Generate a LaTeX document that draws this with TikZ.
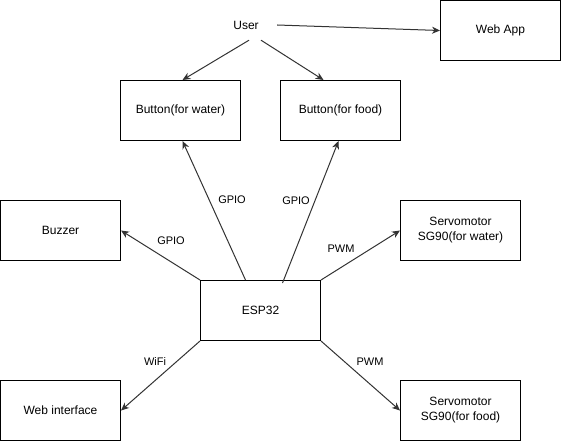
\documentclass[tikz,border=0pt]{standalone}
\usepackage{fontspec}
\setmainfont{Liberation Sans}
\usetikzlibrary{arrows.meta}
\begin{document}
\begin{tikzpicture}[x=1pt,y=-1pt,
  box/.style={draw=black,line width=1pt,minimum width=120pt,minimum height=60pt,inner sep=0pt,align=center,font=\fontsize{12}{15}\selectfont},
  plain/.style={inner sep=0pt,minimum width=62pt,minimum height=30pt,font=\fontsize{12}{15}\selectfont},
  lbl/.style={inner sep=0pt,font=\fontsize{11}{13}\selectfont},
  arr/.style={draw=black!80,line width=1pt,-{Stealth[length=8pt,width=7pt,inset=2.5pt]}}]
\useasboundingbox (0,0) rectangle (561,441);
\node[plain] (user) at (246,25) {User};
\node[box] (webapp) at (500.5,30.5) {Web App};
\node[box] (bw) at (180.5,110.5) {Button(for water)};
\node[box] (bf) at (340.5,110.5) {Button(for food)};
\node[box] (buzzer) at (60.5,230.5) {Buzzer};
\node[box] (sw) at (460.5,230.5) {Servomotor\\SG90(for water)};
\node[box] (esp) at (260.5,310.5) {ESP32};
\node[box] (web) at (60.5,410.5) {Web interface};
\node[box] (sf) at (460.5,410.5) {Servomotor\\SG90(for food)};
\draw[arr] (user.east) -- (webapp.west);
\draw[arr] ([xshift=3pt]user.south) -- ([xshift=2pt]bw.north);
\draw[arr] ([xshift=15pt]user.south) -- ([xshift=-17pt]bf.north);
\draw[arr] (esp.north west) -- (buzzer.east);
\draw[arr] ([xshift=-15pt]esp.north) -- ([xshift=2pt]bw.south);
\draw[arr] ([xshift=22pt,yshift=-3pt]esp.north) -- ([xshift=-2pt]bf.south);
\draw[arr] (esp.north east) -- (sw.west);
\draw[arr] (esp.south west) -- (web.east);
\draw[arr] (esp.south east) -- (sf.west);
\node[lbl] (l1) at (171,241) {GPIO};
\node[lbl] (l2) at (232,200) {GPIO};
\node[lbl] (l3) at (296,201) {GPIO};
\node[lbl] (l4) at (341,249) {PWM};
\node[lbl] (l5) at (155,362) {WiFi};
\node[lbl] (l6) at (370,362) {PWM};
\end{tikzpicture}
\end{document}
